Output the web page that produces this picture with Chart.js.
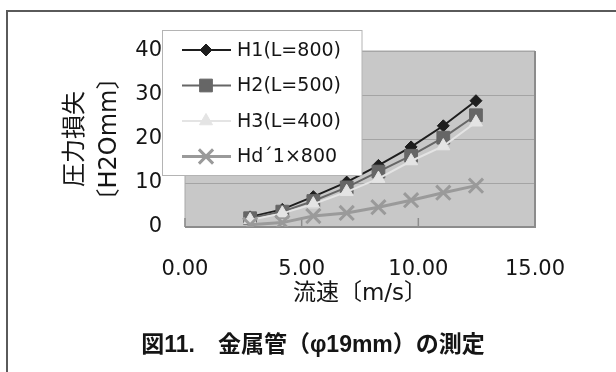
<!DOCTYPE html>
<html>
<head>
<meta charset="utf-8">
<script src="https://cdn.jsdelivr.net/npm/chart.js@4.4.0/dist/chart.umd.min.js"></script>
<style>
  html, body { margin: 0; padding: 0; background: #fff; }
</style>
</head>
<body>
<canvas id="myChart" width="616" height="372"></canvas>
<script>
// values
const flowSpeed = [2.79, 4.17, 5.50, 6.93, 8.29, 9.69, 11.07, 12.47];
const h1Loss = [2.3, 4.0, 6.9, 10.2, 14.0, 18.2, 23.0, 28.7];
const h2Loss = [2.0, 3.5, 5.9, 9.0, 12.6, 16.2, 20.3, 25.4];
const h3Loss = [1.6, 3.1, 5.2, 8.0, 11.0, 15.0, 18.4, 23.8];
const hdLoss = [0.5, 1.0, 2.5, 3.2, 4.5, 6.1, 7.8, 9.4];
const seriesNames = ['H1(L=800)', 'H2(L=500)', 'H3(L=400)', 'Hd´1×800'];
const xTicks = [0, 5, 10, 15];
const yTicks = [0, 10, 20, 30, 40];
const figureCaption = '図11.　金属管（φ19mm）の測定';

const FONT = "'DejaVu Sans', 'Noto Sans CJK JP', sans-serif";

function toPoints(ys) {
  return flowSpeed.map((x, i) => ({ x: x, y: ys[i] }));
}

function makeSet(label, ys, color, width, style, radius, order) {
  return {
    label: label,
    data: toPoints(ys),
    borderColor: color,
    borderWidth: width,
    pointStyle: style,
    pointRadius: radius,
    pointHoverRadius: radius,
    pointBackgroundColor: color,
    pointBorderColor: color,
    pointBorderWidth: style == 'crossRot' ? 3 : 1,
    order: order
  };
}

const data = {
  datasets: [
    makeSet(seriesNames[0], h1Loss, '#1e1e1e', 2, 'rectRot', 6, 3),
    makeSet(seriesNames[1], h2Loss, '#666666', 2, 'rect', 9, 2),
    makeSet(seriesNames[2], h3Loss, '#e4e4e4', 2, 'triangle', 7.5, 1),
    makeSet(seriesNames[3], hdLoss, '#9a9a9a', 3, 'crossRot', 10, 0)
  ]
};

// frame, plot background, inside ticks, boxed legend and caption
const figurePlugin = {
  id: 'figure',
  beforeDraw(chart) {
    const { ctx, chartArea: a } = chart;
    ctx.save();
    ctx.fillStyle = '#fff';
    ctx.fillRect(0, 0, chart.width, chart.height);
    ctx.strokeStyle = '#5a5a5a';
    ctx.lineWidth = 2;
    ctx.beginPath();
    ctx.moveTo(7, chart.height);
    ctx.lineTo(7, 11);
    ctx.lineTo(chart.width, 11);
    ctx.stroke();
    ctx.fillStyle = '#c8c8c8';
    ctx.fillRect(a.left, a.top, a.right - a.left, a.bottom - a.top);
    ctx.restore();
  },
  beforeDatasetsDraw(chart) {
    const { ctx, chartArea: a, scales } = chart;
    ctx.save();
    ctx.strokeStyle = '#a8a8a8';
    ctx.lineWidth = 1;
    ctx.beginPath();
    ctx.moveTo(a.left, a.bottom);
    ctx.lineTo(a.left, a.top);
    ctx.lineTo(a.right, a.top);
    ctx.stroke();
    ctx.strokeStyle = '#8c8c8c';
    ctx.lineWidth = 2;
    ctx.beginPath();
    ctx.moveTo(a.left, a.bottom);
    ctx.lineTo(a.right, a.bottom);
    ctx.lineTo(a.right, a.top);
    ctx.stroke();
    ctx.lineWidth = 1.5;
    scales.x.ticks.forEach(t => {
      const px = scales.x.getPixelForValue(t.value);
      ctx.beginPath();
      ctx.moveTo(px, a.bottom);
      ctx.lineTo(px, a.bottom - 9);
      ctx.stroke();
    });
    ctx.restore();
  },
  afterDraw(chart) {
    const ctx = chart.ctx;
    ctx.save();
    ctx.fillStyle = '#fff';
    ctx.fillRect(162.5, 30.5, 199.5, 145);
    ctx.strokeStyle = '#b4b4b4';
    ctx.lineWidth = 1;
    ctx.strokeRect(162.5, 30.5, 199.5, 145);
    chart.data.datasets.forEach((ds, i) => {
      const y = 50 + i * 35.5;
      ctx.strokeStyle = ds.borderColor;
      ctx.lineWidth = ds.borderWidth;
      ctx.beginPath();
      ctx.moveTo(182, y);
      ctx.lineTo(231, y);
      ctx.stroke();
      ctx.fillStyle = ds.pointBackgroundColor;
      ctx.lineWidth = ds.pointBorderWidth;
      Chart.helpers.drawPoint(ctx, {
        pointStyle: ds.pointStyle,
        radius: ds.pointRadius,
        rotation: 0,
        borderWidth: ds.pointBorderWidth
      }, 206, y);
      ctx.fillStyle = '#151515';
      ctx.font = '19px ' + FONT;
      ctx.textBaseline = 'middle';
      ctx.textAlign = 'left';
      ctx.fillText(ds.label, 237, y + 1);
    });
    // caption under the chart
    ctx.fillStyle = '#151515';
    ctx.font = "bold 23px 'Liberation Sans', 'Noto Sans CJK JP', sans-serif";
    ctx.textAlign = 'center';
    ctx.textBaseline = 'middle';
    ctx.fillText(figureCaption, 313, 346);
    ctx.restore();
  }
};

const config = {
  type: 'line',
  data: data,
  plugins: [figurePlugin],
  options: {
    responsive: false,
    animation: false,
    layout: {
      padding: { left: 20, right: 81, top: 51, bottom: 64 }
    },
    scales: {
      x: {
        type: 'linear',
        min: 0,
        max: 15,
        afterBuildTicks: s => { s.ticks = xTicks.map(v => ({ value: v })); },
        afterFit: s => { s.height = 81; },
        grid: { display: false, drawTicks: false },
        border: { display: false },
        ticks: {
          padding: 30,
          color: '#151515',
          font: { family: FONT, size: 21 },
          callback: v => Number(v).toFixed(2)
        },
        title: {
          display: true,
          text: '流速〔m/s〕',
          color: '#151515',
          font: { family: FONT, size: 23 },
          padding: { top: 0, bottom: 0 }
        }
      },
      y: {
        min: 0,
        max: 40,
        afterBuildTicks: s => { s.ticks = yTicks.map(v => ({ value: v })); },
        afterFit: s => { s.width = 165; },
        grid: { color: '#a4a4a4', lineWidth: 1, drawTicks: false },
        border: { display: false },
        ticks: {
          padding: 23,
          color: '#151515',
          font: { family: FONT, size: 21 }
        },
        title: {
          display: true,
          text: ['圧力損失', '〔H2Omm〕'],
          color: '#151515',
          font: { family: FONT, size: 24, lineHeight: 1.42 },
          padding: { top: 39, bottom: 0 }
        }
      }
    },
    plugins: {
      legend: { display: false },
      tooltip: { enabled: false },
      title: { display: false }
    }
  }
};

const myChart = new Chart(document.getElementById('myChart'), config);
</script>
</body>
</html>
